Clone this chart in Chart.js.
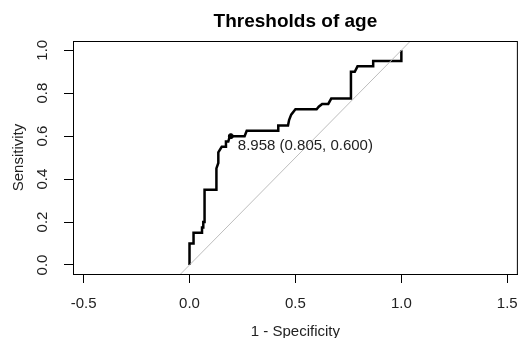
<!DOCTYPE html>
<html>
<head>
<meta charset="utf-8">
<script src="https://cdn.jsdelivr.net/npm/chart.js@4"></script>
<style>
  body { margin: 0; background: #fff; }
  #wrap { width: 530px; height: 338px; }
</style>
</head>
<body>
<div id="wrap"><canvas id="canvas"></canvas></div>
<script>
// ROC curve: 1 - specificity and sensitivity
var fpr = [0, 0, 0.019, 0.019, 0.059, 0.059, 0.065, 0.065, 0.071, 0.071, 0.127, 0.127,
  0.136, 0.136, 0.152, 0.172, 0.172, 0.183, 0.19, 0.26, 0.27, 0.419, 0.419, 0.465,
  0.47, 0.48, 0.5, 0.6, 0.61, 0.626, 0.655, 0.669, 0.762, 0.762, 0.78, 0.793, 0.867,
  0.867, 1.0, 1.0];
var tpr = [0, 0.1, 0.1, 0.15, 0.15, 0.175, 0.175, 0.2, 0.2, 0.35, 0.35, 0.45,
  0.475, 0.525, 0.55, 0.55, 0.575, 0.575, 0.6, 0.6, 0.625, 0.625, 0.65, 0.65,
  0.675, 0.7, 0.725, 0.725, 0.737, 0.75, 0.75, 0.775, 0.775, 0.9, 0.9, 0.925, 0.925,
  0.95, 0.95, 1.0];

// best threshold
var bestThreshold = 8.958;
var bestSpec = 0.805;
var bestSens = 0.600;

var diagX = [-0.1, 1.1];
var xTicks = [-0.5, 0, 0.5, 1, 1.5];
var yTicks = [0, 0.2, 0.4, 0.6, 0.8, 1];

var textFont = "'Liberation Sans', Arial, sans-serif";

var rocPoints = fpr.map(function (x, i) { return { x: x, y: tpr[i] }; });
var diagPoints = diagX.map(function (v) { return { x: v, y: v }; });

// box round the plot, rotated y labels and the threshold text
var rStyle = {
  id: "rStyle",
  afterDraw: function (chart) {
    var ctx = chart.ctx;
    var a = chart.chartArea;
    var ys = chart.scales.y;
    var xs = chart.scales.x;
    ctx.save();
    ctx.strokeStyle = "#000";
    ctx.lineWidth = 1;
    ctx.strokeRect(a.left + 0.5, a.top + 0.5, a.right - a.left - 1, a.bottom - a.top);

    ctx.fillStyle = "#222";
    ctx.font = "15px " + textFont;
    ctx.textAlign = "center";
    ctx.textBaseline = "middle";
    yTicks.forEach(function (v) {
      ctx.save();
      ctx.translate(43, ys.getPixelForValue(v));
      ctx.rotate(-Math.PI / 2);
      ctx.fillText(v.toFixed(1), 0, 0);
      ctx.restore();
    });

    ctx.textAlign = "left";
    ctx.fillText(bestThreshold.toFixed(3) + " (" + bestSpec.toFixed(3) + ", " + bestSens.toFixed(3) + ")",
      xs.getPixelForValue(1 - bestSpec) + 7, ys.getPixelForValue(bestSens) + 10);
    ctx.restore();
  }
};

new Chart(document.getElementById("canvas").getContext("2d"), {
  type: "scatter",
  data: {
    datasets: [
      {
        data: diagPoints,
        showLine: true,
        borderColor: "#bdbdbd",
        borderWidth: 1,
        pointRadius: 0
      },
      {
        data: rocPoints,
        showLine: true,
        borderColor: "#000",
        borderWidth: 2.5,
        pointRadius: 0
      },
      {
        data: [{ x: 1 - bestSpec, y: bestSens }],
        backgroundColor: "#000",
        borderColor: "#000",
        pointRadius: 2.5
      }
    ]
  },
  options: {
    responsive: true,
    maintainAspectRatio: false,
    animation: false,
    layout: { padding: { left: 0, right: 4, top: 0, bottom: 0 } },
    plugins: {
      legend: { display: false },
      tooltip: { enabled: false },
      title: {
        display: true,
        fullSize: false,
        text: "Thresholds of age",
        color: "#000",
        font: { family: textFont, size: 19, weight: "bold" },
        padding: { top: 10.6, bottom: 7.6 }
      }
    },
    scales: {
      x: {
        type: "linear",
        min: -0.55,
        max: 1.55,
        afterBuildTicks: function (s) { s.ticks = xTicks.map(function (v) { return { value: v }; }); },
        afterFit: function (s) { s.height = 64; },
        ticks: {
          color: "#222",
          padding: 12,
          maxRotation: 0,
          font: { family: textFont, size: 15 },
          callback: function (v) { return Number(v).toFixed(1); }
        },
        grid: { drawOnChartArea: false, drawTicks: true, tickLength: 9, color: "#000" },
        border: { display: true, color: "#000" },
        title: {
          display: true,
          text: "1 - Specificity",
          color: "#222",
          font: { family: textFont, size: 15 },
          padding: { top: 0, bottom: -3 }
        }
      },
      y: {
        type: "linear",
        min: -0.042,
        max: 1.043,
        afterBuildTicks: function (s) { s.ticks = yTicks.map(function (v) { return { value: v }; }); },
        afterFit: function (s) { s.width = 73; },
        ticks: { display: false },
        grid: { drawOnChartArea: false, drawTicks: true, tickLength: 9, color: "#000" },
        border: { display: true, color: "#000" },
        title: {
          display: true,
          text: "Sensitivity",
          color: "#222",
          font: { family: textFont, size: 15 },
          padding: { top: 10, bottom: 0 }
        }
      }
    }
  },
  plugins: [rStyle]
});
</script>
</body>
</html>
